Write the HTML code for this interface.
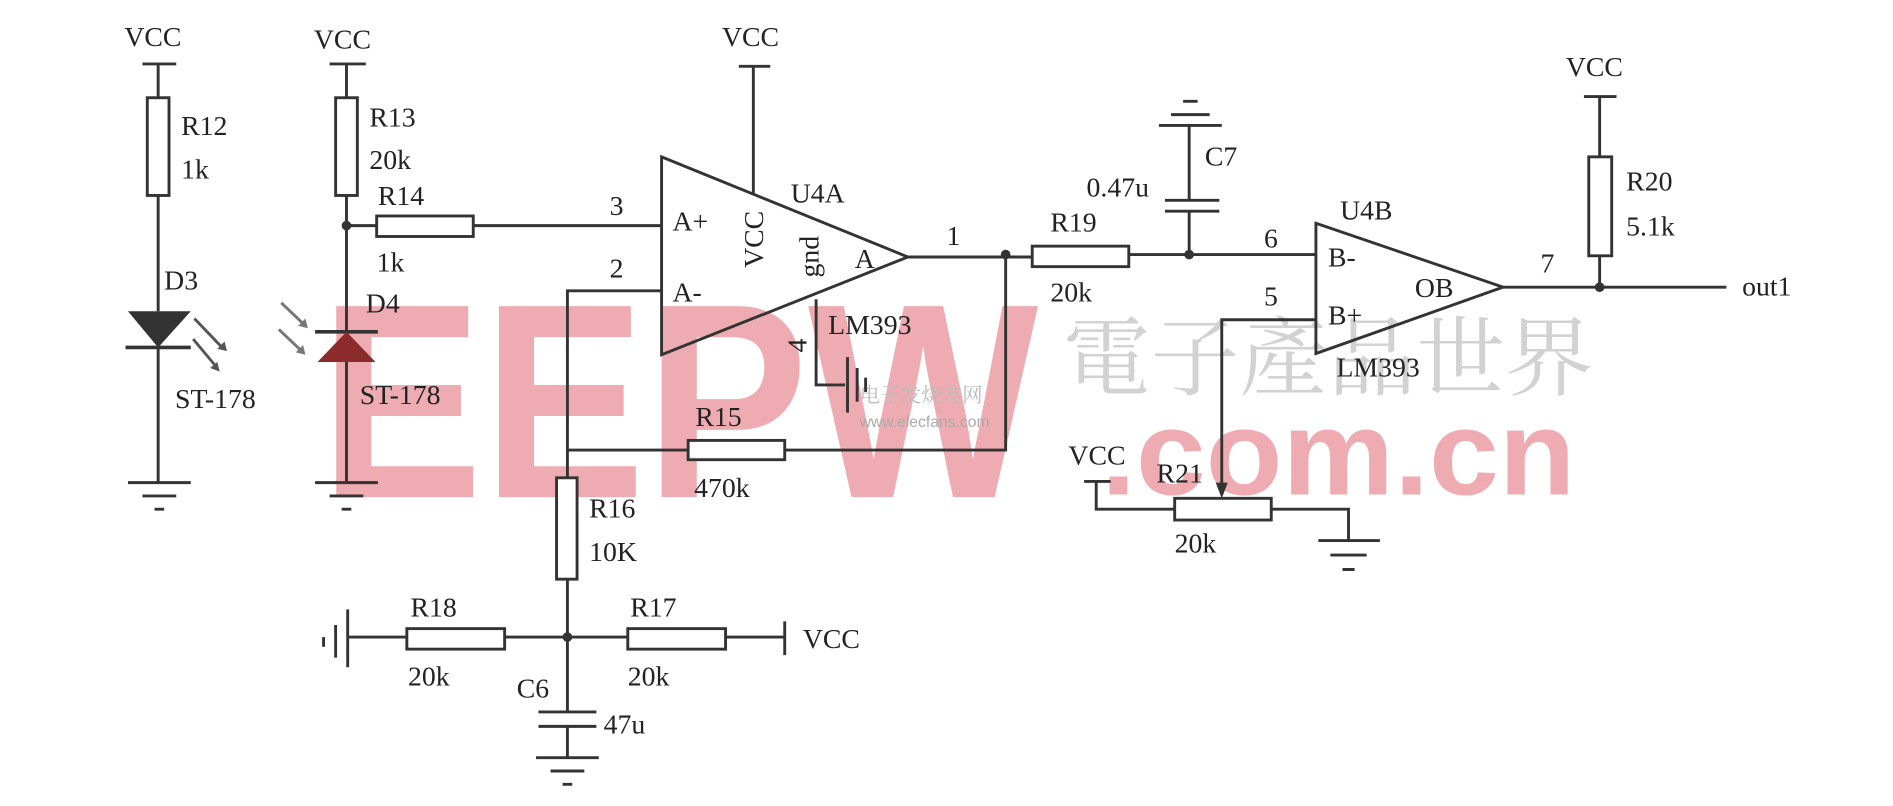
<!DOCTYPE html>
<html><head><meta charset="utf-8"><style>
html,body{margin:0;padding:0;background:#fff;}
svg{display:block;}
text{font-family:"Liberation Serif","Noto Serif CJK SC",serif;fill:#222;}
</style></head><body>
<svg width="1893" height="806" viewBox="0 0 1568 668" preserveAspectRatio="none" xmlns="http://www.w3.org/2000/svg">
<!-- watermark -->
<text x="265" y="412" font-weight="bold" font-size="230" textLength="595" lengthAdjust="spacingAndGlyphs" style="fill:#eeacb2;font-family:'Liberation Sans',sans-serif">EEPW</text>
<text x="912" y="410" font-weight="bold" font-size="100" textLength="393" lengthAdjust="spacingAndGlyphs" style="fill:#eeacb2;font-family:'Liberation Sans',sans-serif">.com.cn</text>
<text x="880" y="322" font-size="72" textLength="440" lengthAdjust="spacingAndGlyphs" style="fill:#d2d2d2;font-family:'Noto Serif CJK SC',serif">電子產品世界</text>
<text x="712" y="333" font-size="17" style="fill:#bbb;font-family:'Noto Serif CJK SC',serif">电子发烧友网</text>
<text x="712" y="354" font-size="13" style="fill:#aaa;font-family:'Liberation Sans',sans-serif">www.elecfans.com</text>

<g stroke="#333" stroke-width="2.4" fill="none">
<path d="M118 53H146M131 53V81M131 162V258M131 288V400"/>
<rect x="122" y="81" width="18" height="81" fill="#fff"/>
<path d="M106 400H158M118 411H146M128 422H136"/>
<path d="M104 288H158" stroke-width="3"/>
<path d="M273 53H303M287 53V81M287 162V400M261 400H313M273 411H301M283 422H291"/>
<rect x="278" y="81" width="18" height="81" fill="#fff"/>
<path d="M287 187H312M392 187H548"/>
<rect x="312" y="179" width="80" height="17" fill="#fff"/>
<path d="M261 275H313" stroke-width="3"/>
<path d="M548 130L752 213L548 294Z"/>
<path d="M612 55H638M624 55V160"/>
<path d="M548 241H470V528"/>
<path d="M676 248V319H700"/>
<path d="M702 296V342M710 305V333M717 313V325"/>
<path d="M752 213H855M935 211H1090M833 211V373H650M570 373H470"/>
<rect x="570" y="365" width="80" height="16" fill="#fff"/>
<rect x="461" y="396" width="17" height="84" fill="#fff"/>
<rect x="855" y="204" width="80" height="17" fill="#fff"/>
<path d="M985 211V175M965 175H1010M965 166H1010M985 166V104M960 104H1012M970 95H1002M980 84H992"/>
<path d="M1090 185L1245 238L1090 293Z"/>
<path d="M1090 265H1012V405"/>
<path d="M1245 238H1430M1312 80H1339M1325 80V130M1325 212V238"/>
<rect x="1316" y="130" width="19" height="82" fill="#fff"/>
<path d="M898 399H920M908 399V422H973M1053 422H1117V448M1092 448H1143M1102 460H1132M1112 472H1122"/>
<rect x="973" y="413" width="80" height="18" fill="#fff"/>
<path d="M288 528H337M418 528H520M601 528H650M650 515V543"/>
<path d="M288 505V553M278 518V545M268 528V536"/>
<rect x="337" y="521" width="81" height="17" fill="#fff"/>
<rect x="520" y="521" width="81" height="17" fill="#fff"/>
<path d="M470 528V590M446 590H494M446 602H494M470 602V628M444 628H496M456 639H484M466 650H474"/>
<path d="M161 264L184 288M160 281L180 305" stroke="#555"/>
<path d="M233 251L253 270M231 273L251 292" stroke="#777"/>
</g>
<g fill="#333">
<path d="M106 258H158L131 288Z"/>
<path d="M287 275L263 300H311Z" fill="#8b2b2b"/>
<circle cx="287" cy="187" r="4"/><circle cx="833" cy="211" r="4"/><circle cx="985" cy="211" r="4"/><circle cx="1325" cy="238" r="4"/><circle cx="470" cy="528" r="4"/>
<path d="M1012 413L1007 400H1017Z"/>
<path d="M188 291L180 289L186 283Z M182 308L174 305L180 300Z" fill="#555"/>
<path d="M255 272L247 270L253 264Z M253 294L245 292L251 286Z" fill="#777"/>
</g>
<g font-size="23">
<text x="103" y="38">VCC</text>
<text x="260" y="40">VCC</text>
<text x="598" y="38">VCC</text>
<text x="1297" y="63">VCC</text>
<text x="885" y="385">VCC</text>
<text x="665" y="537">VCC</text>
<text x="150" y="112">R12</text><text x="150" y="148">1k</text>
<text x="136" y="240">D3</text><text x="145" y="338">ST-178</text>
<text x="306" y="105">R13</text><text x="306" y="140">20k</text>
<text x="313" y="170">R14</text><text x="312" y="225">1k</text>
<text x="303" y="259">D4</text><text x="298" y="335">ST-178</text>
<text x="505" y="178">3</text><text x="505" y="230">2</text>
<text x="557" y="191">A+</text><text x="557" y="250">A-</text>
<text x="708" y="222">A</text>
<text x="655" y="168">U4A</text>
<text x="686" y="277">LM393</text>
<text x="784" y="203">1</text>
<text x="576" y="353">R15</text><text x="575" y="412">470k</text>
<text x="488" y="429">R16</text><text x="488" y="465">10K</text>
<text x="340" y="511">R18</text><text x="338" y="568">20k</text>
<text x="522" y="511">R17</text><text x="520" y="568">20k</text>
<text x="428" y="578">C6</text><text x="500" y="608">47u</text>
<text x="870" y="192">R19</text><text x="870" y="250">20k</text>
<text x="998" y="137">C7</text><text x="900" y="163">0.47u</text>
<text x="1047" y="205">6</text><text x="1047" y="253">5</text>
<text x="1110" y="182">U4B</text>
<text x="1100" y="221">B-</text><text x="1100" y="269">B+</text>
<text x="1172" y="246">OB</text>
<text x="1107" y="312">LM393</text>
<text x="1276" y="226">7</text>
<text x="1443" y="245">out1</text>
<text x="1347" y="158">R20</text><text x="1347" y="195">5.1k</text>
<text x="958" y="400">R21</text><text x="973" y="458">20k</text>
<text transform="translate(632,222) rotate(-90)">VCC</text>
<text transform="translate(678,230) rotate(-90)">gnd</text>
<text transform="translate(668,292) rotate(-90)">4</text>
</g>
</svg>
</body></html>
